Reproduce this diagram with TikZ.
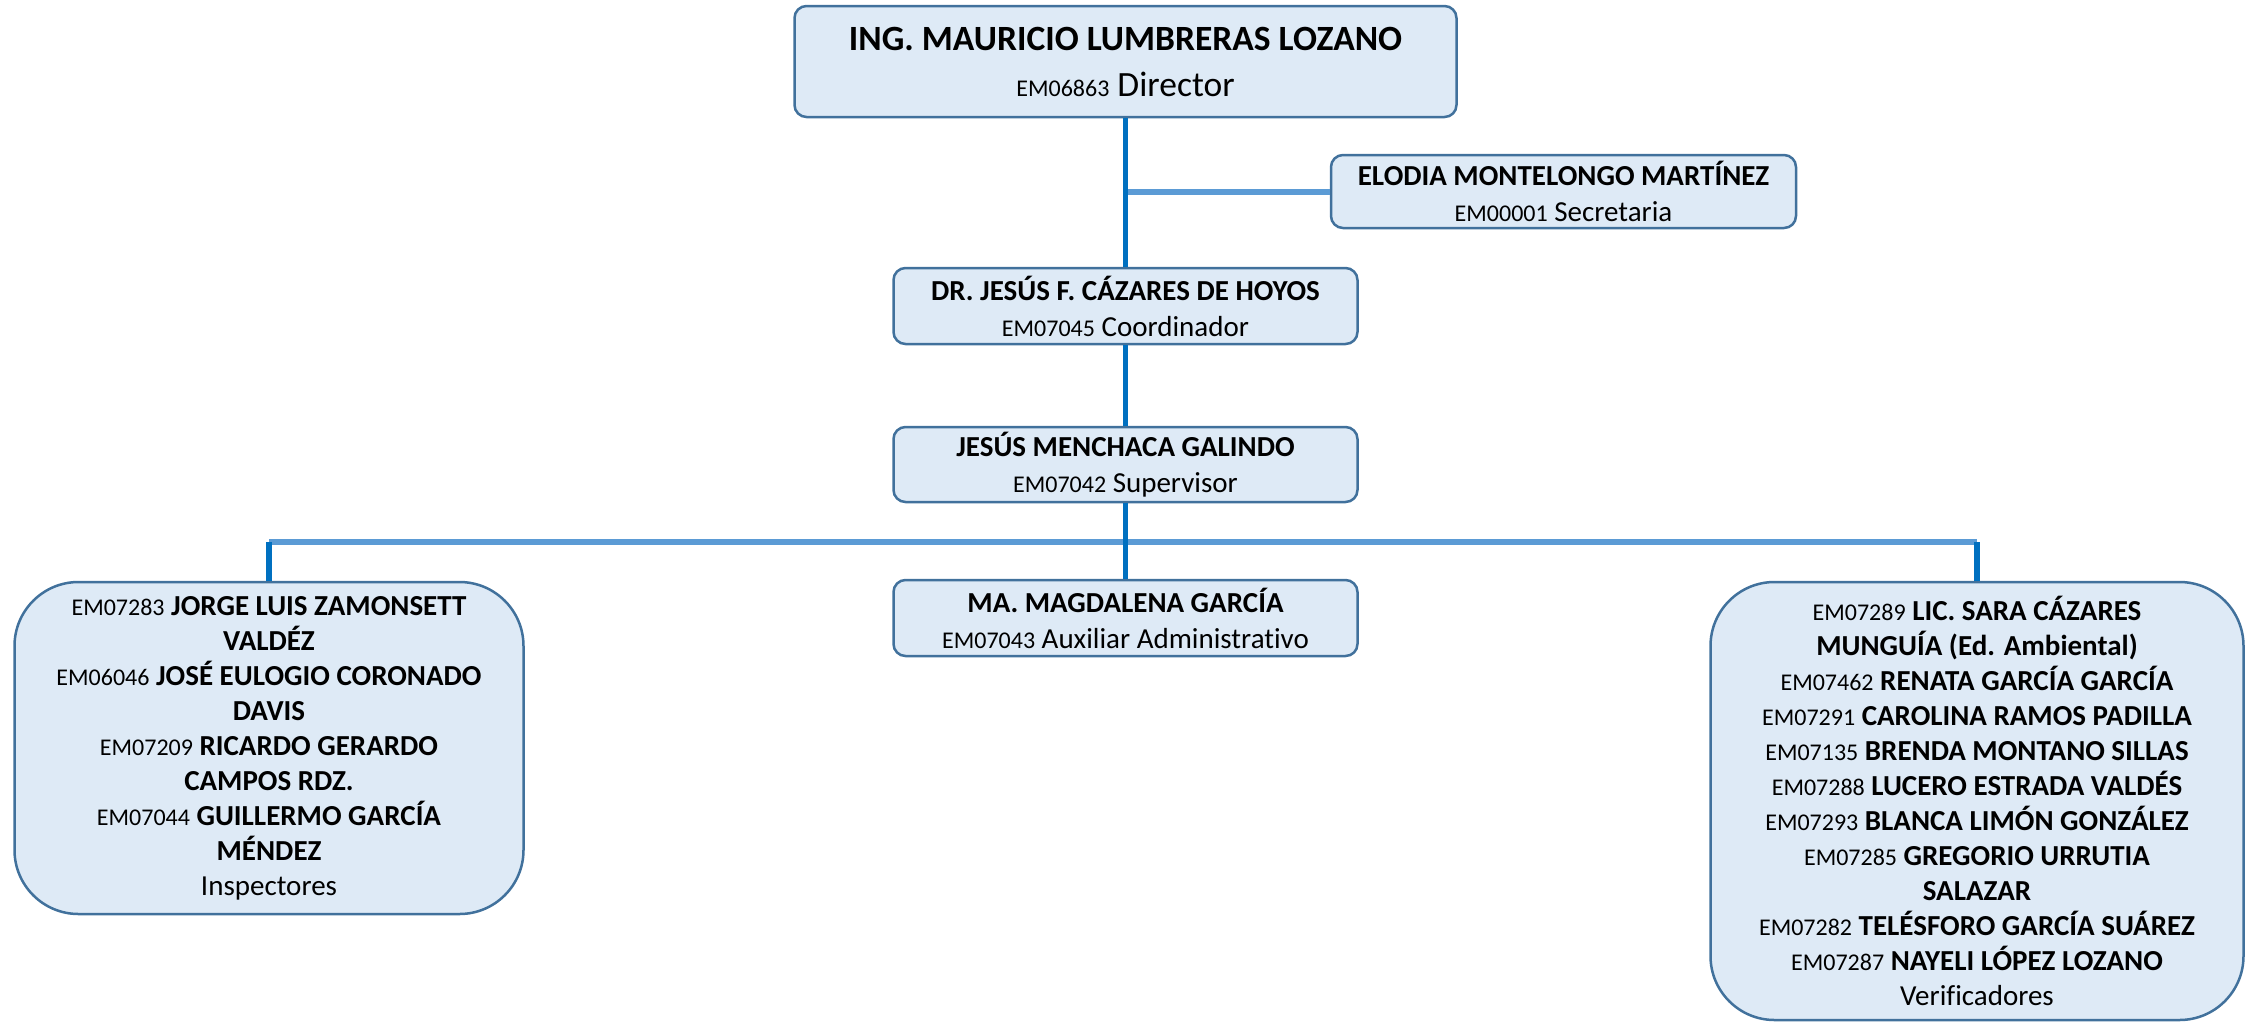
\documentclass[tikz,border=0pt]{standalone}
\usepackage{fontspec}
\setmainfont{Carlito}[Ligatures={NoCommon}]
\definecolor{boxfill}{HTML}{DEEAF6}
\definecolor{boxline}{HTML}{41719C}
\definecolor{trunk}{HTML}{0070C0}
\definecolor{branch}{HTML}{5B9BD5}
\newcommand{\emcode}[1]{{\fontsize{24}{35}\selectfont #1}}

\begin{document}
\begin{tikzpicture}[x=1pt,y=-1pt,
    puesto/.style={draw=boxline, line width=2.5pt, fill=boxfill, rounded corners=12pt,
        inner sep=0pt, align=center, font=\fontsize{29}{36}\selectfont},
    grupo/.style={puesto, rounded corners=64pt, font=\fontsize{29}{35}\selectfont},
    tronco/.style={draw=trunk, line width=5.5pt},
    rama/.style={draw=branch, line width=6pt}]
    \useasboundingbox (0,0) rectangle (2247,1021);

    \node[puesto, minimum width=662pt, minimum height=111pt, font=\fontsize{35.5}{46}\selectfont]
        (director) at (1125.5,61.5) {\textbf{ING. MAURICIO LUMBRERAS LOZANO}\\ \emcode{EM06863} Director};
    \node[puesto, minimum width=465pt, minimum height=73pt]
        (secretaria) at (1563.5,191.5) {\textbf{ELODIA MONTELONGO MARTÍNEZ}\\ \emcode{EM00001} Secretaria};
    \node[puesto, minimum width=464pt, minimum height=76pt]
        (coordinador) at (1125.5,306) {\textbf{DR. JESÚS F. CÁZARES DE HOYOS}\\ \emcode{EM07045} Coordinador};
    \node[puesto, minimum width=464pt, minimum height=75pt]
        (supervisor) at (1125.5,464.5) {\textbf{JESÚS MENCHACA GALINDO}\\ \emcode{EM07042} Supervisor};
    \node[puesto, minimum width=464pt, minimum height=76pt]
        (auxiliar) at (1125.5,618) {\textbf{MA. MAGDALENA GARCÍA}\\ \emcode{EM07043} Auxiliar Administrativo};

    \node[grupo, minimum width=509pt, minimum height=332pt]
        (inspectores) at (269,748) {\emcode{EM07283} \textbf{JORGE LUIS ZAMONSETT}\\ \textbf{VALDÉZ}\\
        \emcode{EM06046} \textbf{JOSÉ EULOGIO CORONADO}\\ \textbf{DAVIS}\\
        \emcode{EM07209} \textbf{RICARDO GERARDO}\\ \textbf{CAMPOS RDZ.}\\
        \emcode{EM07044} \textbf{GUILLERMO GARCÍA}\\ \textbf{MÉNDEZ}\\
        Inspectores};
    \node[grupo, minimum width=533pt, minimum height=438pt]
        (verificadores) at (1977,801) {\emcode{EM07289} \textbf{LIC. SARA CÁZARES}\\ \textbf{MUNGUÍA (Ed. Ambiental)}\\
        \emcode{EM07462} \textbf{RENATA GARCÍA GARCÍA}\\
        \emcode{EM07291} \textbf{CAROLINA RAMOS PADILLA}\\
        \emcode{EM07135} \textbf{BRENDA MONTANO SILLAS}\\
        \emcode{EM07288} \textbf{LUCERO ESTRADA VALDÉS}\\
        \emcode{EM07293} \textbf{BLANCA LIMÓN GONZÁLEZ}\\
        \emcode{EM07285} \textbf{GREGORIO URRUTIA}\\ \textbf{SALAZAR}\\
        \emcode{EM07282} \textbf{TELÉSFORO GARCÍA SUÁREZ}\\
        \emcode{EM07287} \textbf{NAYELI LÓPEZ LOZANO}\\
        Verificadores};

    % conectores
    \coordinate (nudo) at (director.south |- secretaria.west);
    \coordinate (barraI) at (inspectores.north |- 0,542);
    \coordinate (barraD) at (verificadores.north |- 0,542);

    \draw[rama] (nudo) -- (secretaria.west);
    \draw[rama] (barraI) -- (barraD);
    \draw[tronco] (director.south) -- (coordinador.north);
    \draw[tronco] (coordinador.south) -- (supervisor.north);
    \draw[tronco] (supervisor.south) -- (auxiliar.north);
    \draw[tronco] (barraI) -- (inspectores.north);
    \draw[tronco] (barraD) -- (verificadores.north);
\end{tikzpicture}
\end{document}
